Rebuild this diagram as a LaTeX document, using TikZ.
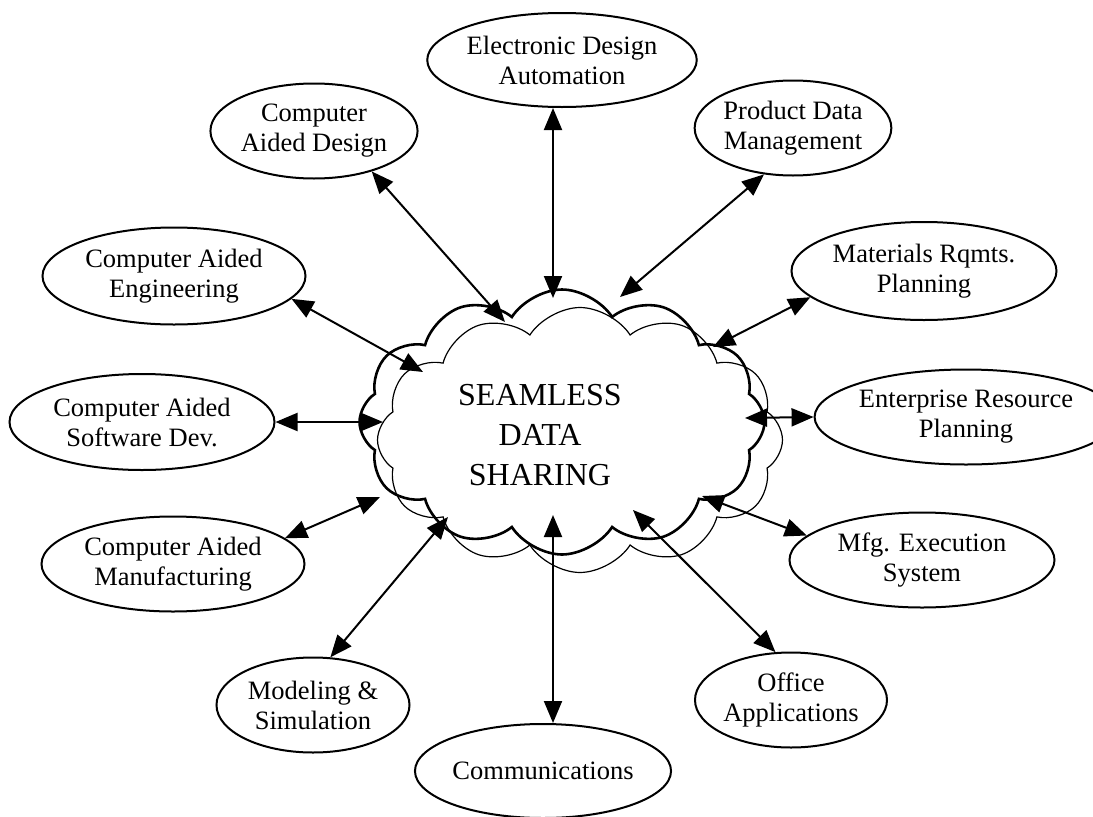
\documentclass[tikz,border=0pt]{standalone}
\usepackage{fontspec}
\setmainfont{Liberation Serif}
\usetikzlibrary{shapes.geometric,shapes.symbols,arrows.meta}

\begin{document}
\begin{tikzpicture}[x=1pt, y=-1pt,
				appnode/.style={ellipse, draw=black, line width=2pt, inner sep=0pt, align=center, font=\fontsize{26.5}{30}\selectfont},
				puffnode/.style={cloud, cloud puffs=12, cloud puff arc=115, draw=black, minimum width=405pt, minimum height=265pt, inner sep=0pt},
				link/.style={{Triangle[length=22pt,width=18pt]}-{Triangle[length=22pt,width=18pt]}, line width=2pt},
				]
				\useasboundingbox (0,0) rectangle (1093,817);

				%Cloud
				\node[puffnode, line width=1.2pt]	(seaback)	at (580,440)	{};
				\node[puffnode, line width=2.6pt]	(sea)		at (562,422)	{};
				\node[font=\fontsize{32}{40}\selectfont, align=center]	(seatext)	at (540,435)	{SEAMLESS\\DATA\\SHARING};

				%Nodes
				\node[appnode, minimum width=239pt, minimum height=94pt]	(eda)	at (562,60)		{Electronic Design\\Automation};
				\node[appnode, minimum width=192pt, minimum height=95pt]	(cad)	at (314,131)	{Computer\\Aided Design};
				\node[appnode, minimum width=193pt, minimum height=95pt]	(pdm)	at (793,128)	{Product Data\\Management};
				\node[appnode, minimum width=263pt, minimum height=97pt]	(cae)	at (174,276)	{Computer Aided\\Engineering};
				\node[appnode, minimum width=265pt, minimum height=98pt]	(mrp)	at (924,271)	{Materials Rqmts.\\Planning};
				\node[appnode, minimum width=265pt, minimum height=96pt]	(casd)	at (142,422)	{Computer Aided\\Software Dev.};
				\node[appnode, minimum width=254pt, minimum height=95pt]	(erp)	at (966,417)	{Enterprise Resource\\Planning};
				\node[appnode, minimum width=263pt, minimum height=95pt]	(cam)	at (173,564)	{Computer Aided\\Manufacturing};
				\node[appnode, minimum width=265pt, minimum height=95pt]	(mes)	at (922,560)	{Mfg. Execution\\System};
				\node[appnode, minimum width=193pt, minimum height=95pt]	(mas)	at (313,705)	{Modeling \&\\Simulation};
				\node[appnode, minimum width=192pt, minimum height=95pt]	(off)	at (791,700)	{Office\\Applications};
				\node[appnode, minimum width=240pt, minimum height=94pt]	(com)	at (543,771)	{Communications};

				%Points on the cloud
				\coordinate (pcad)	at (505,322);
				\coordinate (peda)	at (553,298);
				\coordinate (ppdm)	at (620,297);
				\coordinate (pmrp)	at (713,347);
				\coordinate (pcae)	at (423,372);
				\coordinate (pcasd)	at (383,422);
				\coordinate (perp)	at (745,418);
				\coordinate (pcam)	at (380,497);
				\coordinate (pmes)	at (702,496);
				\coordinate (pmas)	at (448,517);
				\coordinate (pcom)	at (553,515);
				\coordinate (poff)	at (633,510);

				%Lines
				\draw[link]	(pcad) -- (cad.-35.5);
				\draw[link]	(peda) -- (peda |- eda.south);
				\draw[link]	(ppdm) -- (pdm.-122.3);
				\draw[link]	(pmrp) -- (mrp.-167);
				\draw[link]	(pcae) -- (cae.-11.7);
				\draw[link]	(pcasd) -- (casd.east);
				\draw[link]	(perp) -- (erp.west);
				\draw[link]	(pcam) -- (cam.13.8);
				\draw[link]	(pmes) -- (mes.168.1);
				\draw[link]	(pmas) -- (mas.70.5);
				\draw[link]	(pcom) -- (pcom |- com.north);
				\draw[link]	(poff) -- (off.108.8);
			\end{tikzpicture}
\end{document}
